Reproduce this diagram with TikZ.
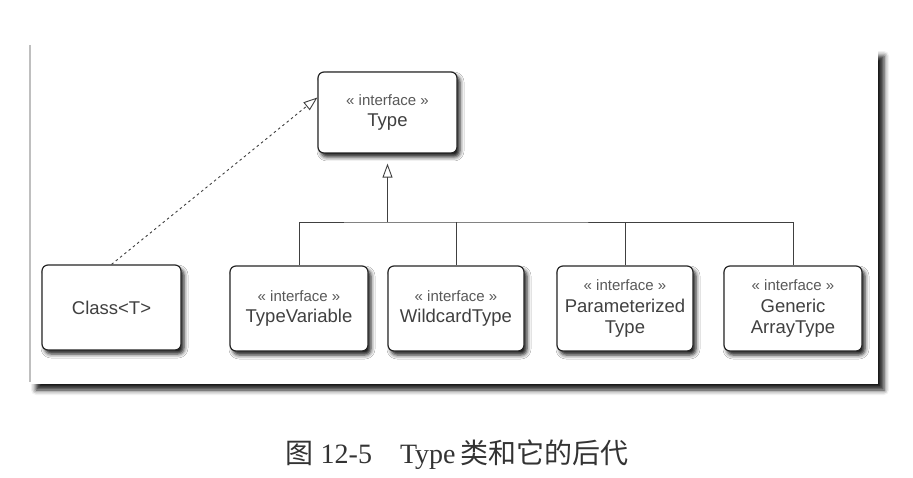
\documentclass[tikz,border=0pt]{standalone}
\usepackage{fontspec}
\setmainfont{Liberation Serif}
\setsansfont{Liberation Sans}
\newfontfamily\cjk{Noto Sans CJK SC}
\usetikzlibrary{arrows.meta,shadows.blur}
\newcommand{\stereotype}{{\fontsize{15}{21}\selectfont\color{black!65}«\ interface\ »}}
\begin{document}
\begin{tikzpicture}[x=1pt,y=1pt,
  umlbox/.style={draw=black!85, line width=1.2pt, rounded corners=6pt, fill=white,
    minimum height=85pt, align=center, font=\sffamily\fontsize{18.5}{21.5}\selectfont,
    text=black!75, inner sep=2pt,
    blur shadow={shadow xshift=3pt, shadow yshift=-4pt, shadow blur radius=4pt, shadow opacity=90}},
  conn/.style={draw=black!75, line width=0.9pt},
  openhead/.style={-{Triangle[open, length=14pt, width=10pt, line width=0.9pt]}}
]
\useasboundingbox (0,0) rectangle (913,-478);
% frame
\path[fill=white, blur shadow={shadow xshift=6pt, shadow yshift=-6pt, shadow blur radius=5pt, shadow opacity=90}]
  (30,-50) rectangle (878,-384);
\draw[black!25, line width=1.2pt] (30,-45) -- (30,-382);

\node[umlbox, minimum width=139pt, minimum height=81pt] (type) at (387.5,-112.5)
  {\stereotype\\Type};
\node[umlbox, minimum width=139pt] (class) at (111.5,-307.5) {Class<T>};
\node[umlbox, minimum width=138pt] (tv) at (299,-308.5)
  {\stereotype\\TypeVariable};
\node[umlbox, minimum width=136pt] (wc) at (456,-308.5)
  {\stereotype\\WildcardType};
\node[umlbox, minimum width=136pt] (pt) at (625,-308.5)
  {\stereotype\\Parameterized\\Type};
\node[umlbox, minimum width=138pt] (ga) at (793,-308.5)
  {\stereotype\\Generic\\ArrayType};

\coordinate (bar) at (387.5,-222);
\coordinate (tip) at ([yshift=-10pt]type.south);
\draw[conn, openhead] (bar) -- (tip);
\draw[conn] (tv.north) |- (bar) -| (ga.north);
\draw[conn] (wc.north) -- (wc.north |- bar);
\draw[conn] (pt.north) -- (pt.north |- bar);
\draw[conn, dash pattern=on 2.5pt off 3pt, openhead] (class.north) -- ([yshift=15pt]type.west);

\node[font=\fontsize{28}{30}\selectfont, text=black!80] (cap) at (457,-455)
  {{\cjk 图}\ 12-5\quad Type\,{\cjk 类和它的后代}};
\end{tikzpicture}
\end{document}
